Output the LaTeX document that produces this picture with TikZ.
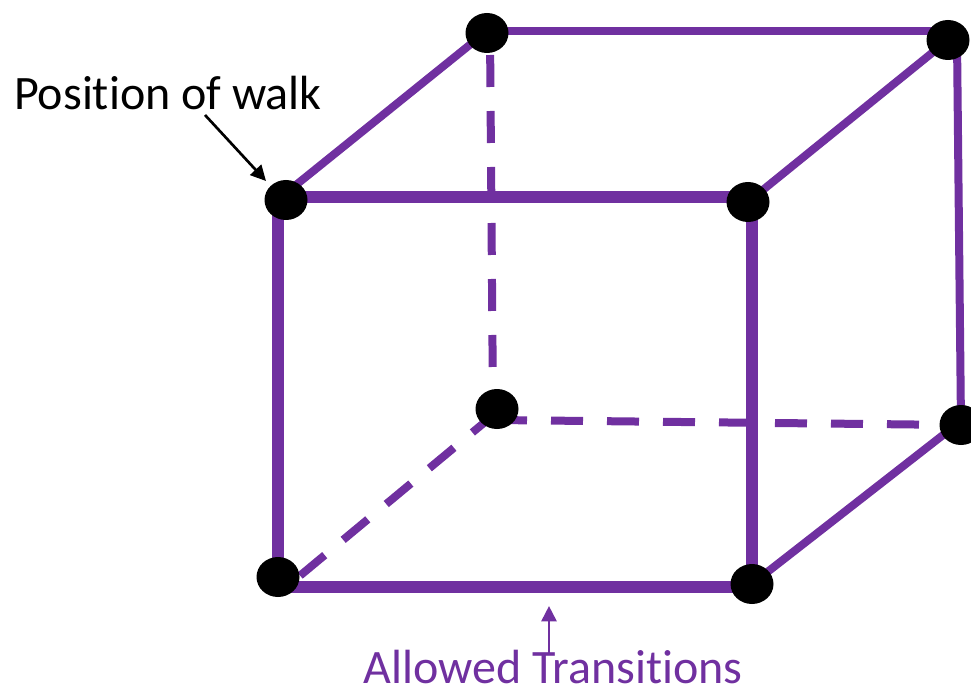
\documentclass[tikz,border=0pt]{standalone}
\usepackage{fontspec}
\setmainfont[Ligatures=NoCommon]{Carlito}
\usetikzlibrary{arrows.meta,shapes.geometric,backgrounds,calc}
\definecolor{pur}{HTML}{7030A0}
\tikzset{
 vert/.style={ellipse,fill=black,minimum width=32.25pt,minimum height=30pt,inner sep=0pt},
 thickedge/.style={draw=pur,line width=9pt},
 midedge/.style={draw=pur,line width=6pt},
 dashedge/.style={draw=pur,line width=6pt,dash pattern=on 24pt off 18pt},
 lab/.style={font=\fontsize{36pt}{40pt}\selectfont,anchor=base,inner sep=0pt},
 ptr/.style={-{Triangle[length=11.5pt,width=11.25pt]},line width=2pt},
}
\begin{document}
\begin{tikzpicture}[x=0.75pt,y=-0.75pt]
\useasboundingbox (0,0) rectangle (971,688);
\node[vert] (a) at (286,200) {};
\node[vert] (b) at (748,202) {};
\node[vert] (c) at (278,577) {};
\node[vert] (d) at (752,584) {};
\node[vert] (e) at (487,33) {};
\node[vert] (f) at (948,40) {};
\node[vert] (g) at (497,409) {};
\node[vert] (h) at (961,425) {};
\begin{pgfonlayer}{background}
\draw[thickedge] ($(a)+(0,-3)$) -- ($(b)+(0,-5)$);
\draw[thickedge] ($(a)+(-8,0)$) -- ($(c)+(0,0)$);
\draw[thickedge] ($(c)+(0,10)$) -- ($(d)+(0,3)$);
\draw[thickedge] (b.center) ++(4,0) -- (d.center);
\draw[midedge] ($(a)+(0,-7)$) -- ($(e)+(0,-2)$);
\draw[midedge] ($(e)+(0,-2)$) -- ($(f)+(0,-9)$);
\draw[midedge] (b.center) -- (f.center);
\draw[midedge] ($(f)+(9,0)$) -- ($(h)+(0,0)$);
\draw[midedge] (d.center) -- ($(h)+(0,-4)$);
\draw[dashedge,dash phase=25.5pt] ($(e)+(3,0)$) -- ($(g)+(-4,0)$);
\draw[dashedge,dash phase=0pt] ($(g)+(-2,11)$) -- ($(h)+(0,0)$);
\draw[dashedge] ($(g)+(0,3)$) -- ($(c)+(12,7)$);
\end{pgfonlayer}
\node[lab] (pos) at (168,110) {Position of walk};
\node[lab,text=pur] (allowed) at (553,683) {Allowed Transitions};
\coordinate (p1) at (205,115);
\coordinate (p2) at (266,181);
\draw[ptr] (p1) -- (p2);
\coordinate (q1) at (549,653);
\coordinate (q2) at (549,606);
\draw[ptr,draw=pur,fill=pur] (q1) -- (q2);
\end{tikzpicture}
\end{document}
